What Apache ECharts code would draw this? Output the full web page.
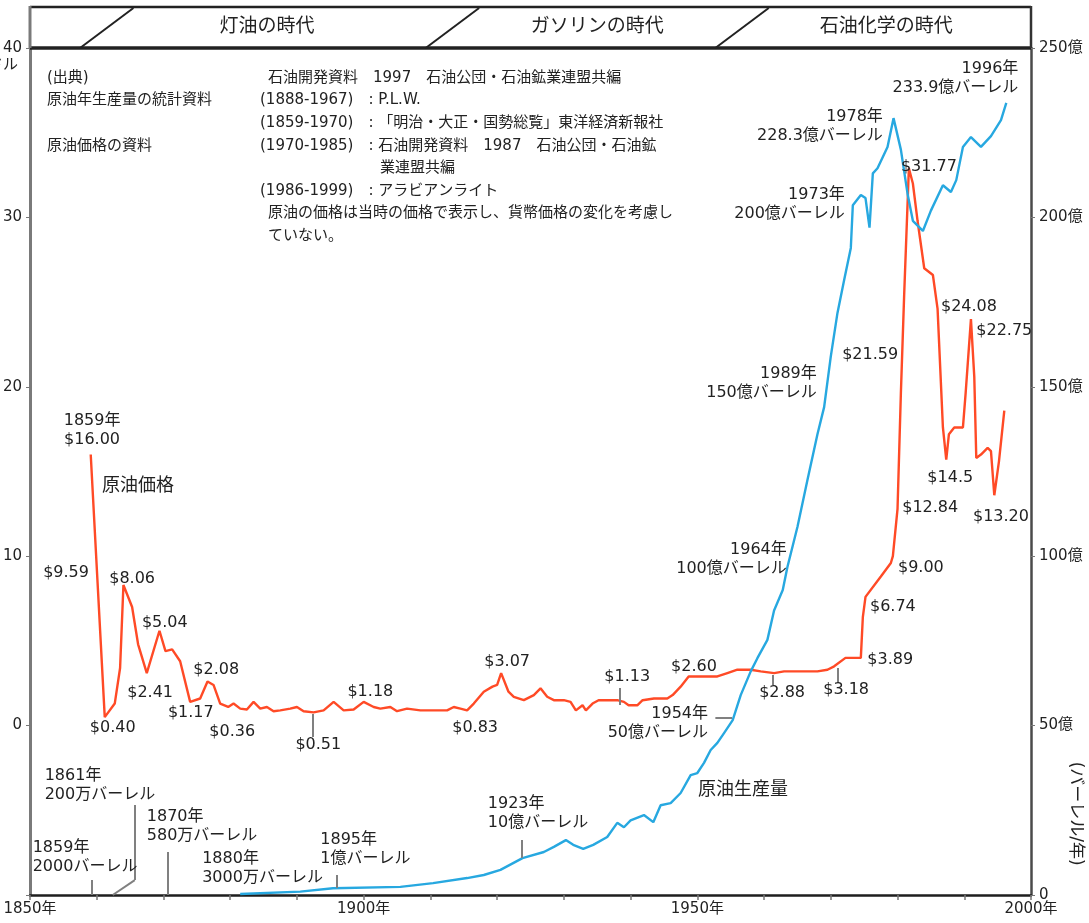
<!DOCTYPE html>
<html>
<head>
<meta charset="utf-8">
<title>原油価格と原油生産量</title>
<script src="https://cdn.jsdelivr.net/npm/echarts@6.0.0/dist/echarts.min.js"></script>
<style>
html, body { margin: 0; padding: 0; background: #fff; }
#main { width: 1089px; height: 923px; }
</style>
</head>
<body>
<div id="main"></div>
<script>
/* 原油価格 (ドル/バーレル) */
var priceYears = [
    1859.1, 1861.2, 1862.7, 1863.5, 1864.0, 1865.3, 1866.2, 1867.5, 1869.4, 1870.3,
    1871.3, 1872.5, 1874.0, 1875.5, 1876.6, 1877.5, 1878.5, 1879.7, 1880.5, 1881.5,
    1882.5, 1883.5, 1884.5, 1885.5, 1886.5, 1887.5, 1889.0, 1890.0, 1891.0, 1892.5,
    1894.0, 1895.5, 1897.0, 1898.5, 1900.0, 1901.5, 1902.5, 1904.0, 1905.0, 1906.5,
    1908.5, 1910.5, 1912.5, 1913.5, 1914.5, 1915.5, 1916.5, 1918.0, 1919.3, 1920.0,
    1920.6, 1921.7, 1922.5, 1924.0, 1925.5, 1926.5, 1927.5, 1928.5, 1930.0, 1931.0,
    1931.8, 1932.8, 1933.3, 1934.3, 1935.2, 1936.5, 1938.0, 1939.0, 1939.7, 1941.0,
    1941.8, 1943.5, 1945.5, 1946.3, 1947.5, 1948.7, 1951.0, 1953.0, 1954.5, 1956.0,
    1958.0, 1959.5, 1961.5, 1963.0, 1965.5, 1968.0, 1969.5, 1970.5, 1972.2, 1974.5,
    1974.8, 1975.2, 1977.5, 1979.0, 1979.3, 1980.0, 1980.5, 1981.0, 1981.7, 1982.3,
    1983.0, 1984.0, 1985.3, 1986.0, 1986.8, 1987.3, 1987.7, 1988.5, 1989.8, 1990.2,
    1991.0, 1991.5, 1991.8, 1992.5, 1993.5, 1994.0, 1994.5, 1995.2, 1996.0
];
var priceValues = [
    16.0, 0.5, 1.3, 3.4, 8.3, 7.0, 4.8, 3.1, 5.6, 4.4,
    4.5, 3.8, 1.4, 1.6, 2.6, 2.4, 1.3, 1.1, 1.3, 1.0,
    0.95, 1.4, 1.0, 1.1, 0.85, 0.9, 1.0, 1.1, 0.85, 0.78,
    0.9, 1.4, 0.9, 0.95, 1.4, 1.1, 1.0, 1.1, 0.85, 1.0,
    0.9, 0.9, 0.9, 1.1, 1.0, 0.9, 1.3, 2.0, 2.3, 2.4,
    3.1, 2.0, 1.7, 1.5, 1.8, 2.2, 1.7, 1.5, 1.5, 1.4,
    0.9, 1.2, 0.9, 1.3, 1.5, 1.5, 1.5, 1.4, 1.2, 1.2,
    1.5, 1.6, 1.6, 1.8, 2.3, 2.9, 2.9, 2.9, 3.1, 3.3,
    3.3, 3.2, 3.1, 3.2, 3.2, 3.2, 3.3, 3.5, 4.0, 4.0,
    6.4, 7.6, 8.8, 9.6, 10.0, 12.8, 19.6, 25.5, 32.9, 32.0,
    29.8, 27.0, 26.6, 24.6, 17.6, 15.7, 17.2, 17.6, 17.6, 19.6,
    24.0, 20.6, 15.8, 16.0, 16.4, 16.2, 13.6, 15.6, 18.6
];

/* 原油生産量 (億バーレル/年) */
var prodYears = [
    1881.5, 1890.5, 1895.4, 1905.5, 1910.4, 1915.5, 1918.0, 1920.5, 1923.8, 1927.0,
    1928.5, 1930.3, 1931.4, 1932.9, 1934.4, 1936.5, 1938.0, 1939.0, 1940.0, 1942.0,
    1943.4, 1944.5, 1946.0, 1947.5, 1949.0, 1950.0, 1951.0, 1952.0, 1953.0, 1954.0,
    1955.3, 1956.5, 1958.0, 1959.0, 1960.5, 1961.5, 1962.8, 1963.5, 1965.0, 1966.5,
    1968.0, 1969.0, 1970.0, 1971.0, 1972.0, 1973.0, 1973.3, 1974.5, 1975.2, 1975.8,
    1976.3, 1977.0, 1978.5, 1979.4, 1980.5, 1981.5, 1982.3, 1983.8, 1985.0, 1986.8,
    1988.0, 1988.8, 1989.8, 1991.0, 1992.5, 1994.0, 1995.5, 1996.3
];
var prodValues = [
    0.3, 1, 2, 2.4, 3.5, 5, 5.9, 7.4, 10.9, 12.7,
    14.2, 16.2, 14.8, 13.6, 14.8, 17.1, 21.3, 20, 22, 23.6,
    21.5, 26.5, 27.1, 30.1, 35.4, 36, 39, 42.8, 44.9, 47.8,
    51.6, 59, 66, 69.9, 75.3, 84, 90, 96.8, 108.6, 122.5,
    136, 144, 159, 171.8, 181.5, 191, 203.6, 206.6, 205.7, 197,
    213, 214.5, 220.8, 229.3, 220, 207, 199, 196, 202, 209.5,
    207.5, 211, 220.8, 223.7, 220.8, 224, 228.7, 233.8
];

/* 軸の目盛り */
var xTickLabels = [1850, 1900, 1950, 2000];
var priceTicks = [0, 10, 20, 30, 40];
var prodTicks = [0, 50, 100, 150, 200, 250];

/* 時代区分 */
var eraNames = ['灯油の時代', 'ガソリンの時代', '石油化学の時代'];
var eraStarts = [1857.5, 1909.3, 1952.7];
var eraCenters = [1885.5, 1935.0, 1978.3];

/* 価格の注記 */
var priceNotes = [
    {x: 1859.3, y: 17.45, text: '1859年\n$16.00'},
    {x: 1860.8, y: 14.1, text: '原油価格', align: 'left', size: 18},
    {x: 1855.4, y: 9.0, text: '$9.59'},
    {x: 1862.4, y: -0.14, text: '$0.40'},
    {x: 1865.3, y: 8.65, text: '$8.06'},
    {x: 1868.0, y: 1.92, text: '$2.41'},
    {x: 1870.2, y: 6.06, text: '$5.04'},
    {x: 1874.1, y: 0.74, text: '$1.17'},
    {x: 1877.9, y: 3.28, text: '$2.08'},
    {x: 1880.3, y: -0.38, text: '$0.36'},
    {x: 1893.2, y: -1.14, text: '$0.51'},
    {x: 1901.0, y: 1.98, text: '$1.18'},
    {x: 1916.7, y: -0.14, text: '$0.83'},
    {x: 1921.5, y: 3.75, text: '$3.07'},
    {x: 1939.5, y: 2.87, text: '$1.13'},
    {x: 1949.5, y: 3.46, text: '$2.60'},
    {x: 1962.7, y: 1.92, text: '$2.88'},
    {x: 1972.3, y: 2.10, text: '$3.18'},
    {x: 1978.9, y: 3.87, text: '$3.89'},
    {x: 1979.3, y: 7.0, text: '$6.74'},
    {x: 1983.5, y: 9.3, text: '$9.00'},
    {x: 1984.9, y: 12.85, text: '$12.84'},
    {x: 1975.9, y: 21.88, text: '$21.59'},
    {x: 1987.9, y: 14.62, text: '$14.5'},
    {x: 1995.5, y: 12.32, text: '$13.20'},
    {x: 1996.0, y: 23.3, text: '$22.75'},
    {x: 1990.7, y: 24.72, text: '$24.08'},
    {x: 1984.7, y: 32.98, text: '$31.77'}
];

/* 生産量の注記 */
var prodNotes = [
    {x: 1850.4, y: 11.2, text: '1859年\n2000バーレル', align: 'left'},
    {x: 1852.2, y: 32.5, text: '1861年\n200万バーレル', align: 'left'},
    {x: 1867.5, y: 20.4, text: '1870年\n580万バーレル', align: 'left'},
    {x: 1875.8, y: 8.0, text: '1880年\n3000万バーレル', align: 'left'},
    {x: 1893.5, y: 13.6, text: '1895年\n1億バーレル', align: 'left'},
    {x: 1918.6, y: 24.2, text: '1923年\n10億バーレル', align: 'left'},
    {x: 1951.6, y: 50.8, text: '1954年\n50億バーレル', align: 'right'},
    {x: 1950.1, y: 31.0, text: '原油生産量', align: 'left', size: 18},
    {x: 1963.4, y: 99.2, text: '1964年\n100億バーレル', align: 'right'},
    {x: 1967.9, y: 150.9, text: '1989年\n150億バーレル', align: 'right'},
    {x: 1972.1, y: 203.9, text: '1973年\n200億バーレル', align: 'right'},
    {x: 1977.8, y: 227.0, text: '1978年\n228.3億バーレル', align: 'right'},
    {x: 1998.1, y: 241.1, text: '1996年\n233.9億バーレル', align: 'right'}
];

/* 引き出し線 */
var priceLeaders = [
    [[1892.4, 0.68], [1892.4, -0.67]],
    [[1938.4, 2.22], [1938.4, 1.22]],
    [[1961.3, 2.98], [1961.3, 2.40]],
    [[1971.0, 3.40], [1971.0, 2.51]]
];
var prodLeaders = [
    [[1859.3, 4.4], [1859.3, 0]],
    [[1862.4, 0], [1865.7, 4.4]],
    [[1865.7, 4.4], [1865.7, 26.6]],
    [[1870.7, 12.7], [1870.7, 0]],
    [[1895.9, 5.9], [1895.9, 2.1]],
    [[1923.7, 16.2], [1923.7, 10.9]],
    [[1952.7, 52.2], [1955.2, 52.2]]
];

/* 出典 */
var sourceLeft = ['(出典)', '原油年生産量の統計資料', '', '原油価格の資料'];
var sourceRight = [
    '石油開発資料　1997　石油公団・石油鉱業連盟共編',
    '(1888-1967)　: P.L.W.',
    '(1859-1970)　: 「明治・大正・国勢総覧」東洋経済新報社',
    '(1970-1985)　: 石油開発資料　1987　石油公団・石油鉱',
    '　　　　　　　　業連盟共編',
    '(1986-1999)　: アラビアンライト',
    '原油の価格は当時の価格で表示し、貨幣価格の変化を考慮し',
    'ていない。'
];

var FONT = '"DejaVu Sans", "Noto Sans CJK JP", sans-serif';
var TEXT = '#222';

var zip = function (xs, ys) {
    return xs.map(function (x, i) { return [x, ys[i]]; });
};

var noteSeries = function (notes, axisIndex) {
    return {
        type: 'scatter',
        yAxisIndex: axisIndex,
        symbolSize: 0,
        silent: true,
        z: 6,
        itemStyle: {color: 'transparent'},
        label: {
            show: true,
            position: 'inside',
            formatter: '{b}',
            color: TEXT,
            opacity: 1,
            textBorderWidth: 0,
            textBorderColor: 'transparent',
            fontFamily: FONT,
            fontSize: 16,
            lineHeight: 19,
            verticalAlign: 'middle'
        },
        data: notes.map(function (n) {
            return {
                name: n.text,
                value: [n.x, n.y],
                label: {align: n.align || 'center', fontSize: n.size || 16}
            };
        })
    };
};

var leaderLines = function (list) {
    return {
        silent: true,
        symbol: 'none',
        label: {show: false},
        lineStyle: {color: '#808080', width: 2, type: 'solid'},
        emphasis: {disabled: true},
        data: list.map(function (seg) {
            return [{coord: seg[0]}, {coord: seg[1]}];
        })
    };
};

var box = document.getElementById('main');
var myChart = echarts.init(box);

var options = {
    animation: false,
    backgroundColor: '#fff',
    textStyle: {fontFamily: FONT},
    grid: {left: 30, right: 58, top: 48, bottom: 28, containLabel: false, outerBoundsMode: 'none'},
    xAxis: {
        type: 'value',
        min: 1850,
        max: 2000,
        interval: 10,
        axisLine: {onZero: false, lineStyle: {color: '#1e1e1e', width: 2.5}},
        axisTick: {length: 5, lineStyle: {color: '#777', width: 1.5}},
        axisLabel: {
            color: TEXT, fontSize: 15, margin: 7, fontFamily: FONT,
            formatter: function (v) { return xTickLabels.indexOf(v) >= 0 ? v + '年' : ''; }
        },
        splitLine: {show: false}
    },
    yAxis: [
        {
            type: 'value',
            min: -10,
            max: 40,
            interval: 10,
            position: 'left',
            axisLine: {show: true, onZero: false, lineStyle: {color: '#7a7a7a', width: 3}},
            axisTick: {show: true, length: 4, lineStyle: {color: '#777'}},
            axisLabel: {
                color: TEXT, fontSize: 15, margin: 8, fontFamily: FONT,
                formatter: function (v) { return priceTicks.indexOf(v) >= 0 ? String(v) : ''; }
            },
            splitLine: {show: false}
        },
        {
            type: 'value',
            min: 0,
            max: 250,
            interval: 50,
            position: 'right',
            axisLine: {show: true, onZero: false, lineStyle: {color: '#4a4a4a', width: 2.5}},
            axisTick: {show: true, length: 4, lineStyle: {color: '#777'}},
            axisLabel: {
                color: TEXT, fontSize: 15, margin: 8, fontFamily: FONT,
                formatter: function (v) {
                    if (prodTicks.indexOf(v) < 0) return '';
                    return v === 0 ? '0' : v + '億';
                }
            },
            splitLine: {show: false}
        }
    ],
    series: [
        {
            name: '原油価格',
            type: 'line',
            yAxisIndex: 0,
            data: zip(priceYears, priceValues),
            showSymbol: false,
            silent: true,
            z: 3,
            lineStyle: {color: '#ff4a26', width: 2.4},
            itemStyle: {color: '#ff4a26'},
            markLine: leaderLines(priceLeaders)
        },
        {
            name: '原油生産量',
            type: 'line',
            yAxisIndex: 1,
            data: zip(prodYears, prodValues),
            showSymbol: false,
            silent: true,
            z: 4,
            lineStyle: {color: '#27a8e0', width: 2.4},
            itemStyle: {color: '#27a8e0'},
            markLine: leaderLines(prodLeaders)
        },
        noteSeries(priceNotes, 0),
        noteSeries(prodNotes, 1)
    ]
};
myChart.setOption(options);

/* 上部の時代区分の帯と出典 */
var px = function (year) { return myChart.convertToPixel({xAxisIndex: 0}, year); };
var xL = px(1850);
var xR = px(2000);
var yB = myChart.convertToPixel({yAxisIndex: 0}, 40);
var yT = yB - 41;
var slant = 8;

var graphics = [
    {type: 'line', shape: {x1: xL, y1: yT, x2: xR, y2: yT}, style: {stroke: '#222', lineWidth: 2.5}, z: 10},
    {type: 'line', shape: {x1: xL, y1: yB, x2: xR, y2: yB}, style: {stroke: '#222', lineWidth: 3.5}, z: 10},
    {type: 'line', shape: {x1: xL, y1: yT - 1, x2: xL, y2: yB}, style: {stroke: '#7a7a7a', lineWidth: 3}, z: 10},
    {type: 'line', shape: {x1: xR, y1: yT - 1, x2: xR, y2: yB}, style: {stroke: '#333', lineWidth: 2.5}, z: 10}
];
eraStarts.forEach(function (y0, i) {
    graphics.push({
        type: 'line',
        shape: {x1: px(y0), y1: yB, x2: px(y0 + slant), y2: yT + 1},
        style: {stroke: '#222', lineWidth: 2},
        z: 10
    });
    graphics.push({
        type: 'text',
        x: px(eraCenters[i]),
        y: (yT + yB) / 2,
        style: {text: eraNames[i], fill: TEXT, fontSize: 19, fontFamily: FONT, align: 'center', verticalAlign: 'middle'},
        z: 10
    });
});
sourceLeft.forEach(function (t, i) {
    graphics.push({
        type: 'text', x: 47, y: 78 + i * 22.6,
        style: {text: t, fill: TEXT, fontSize: 15, fontFamily: FONT, align: 'left', verticalAlign: 'middle'}
    });
});
sourceRight.forEach(function (t, i) {
    var indent = (i === 0 || i >= 6) ? 268 : 260;
    graphics.push({
        type: 'text', x: indent, y: 78 + i * 22.6,
        style: {text: t, fill: TEXT, fontSize: 15, fontFamily: FONT, align: 'left', verticalAlign: 'middle'}
    });
});
/* 左軸の単位 */
graphics.push({
    type: 'text',
    x: xL - 12,
    y: yB + 17,
    style: {text: 'ドル', fill: TEXT, fontSize: 15, fontFamily: FONT, align: 'right', verticalAlign: 'middle'}
});
/* 右軸の単位 */
graphics.push({
    type: 'text',
    x: xR + 44,
    y: myChart.convertToPixel({yAxisIndex: 1}, 24),
    rotation: -Math.PI / 2,
    style: {text: '(バーレル/年)', fill: TEXT, fontSize: 17, fontFamily: FONT, align: 'center', verticalAlign: 'middle'}
});

myChart.setOption({graphic: graphics});
</script>
</body>
</html>
